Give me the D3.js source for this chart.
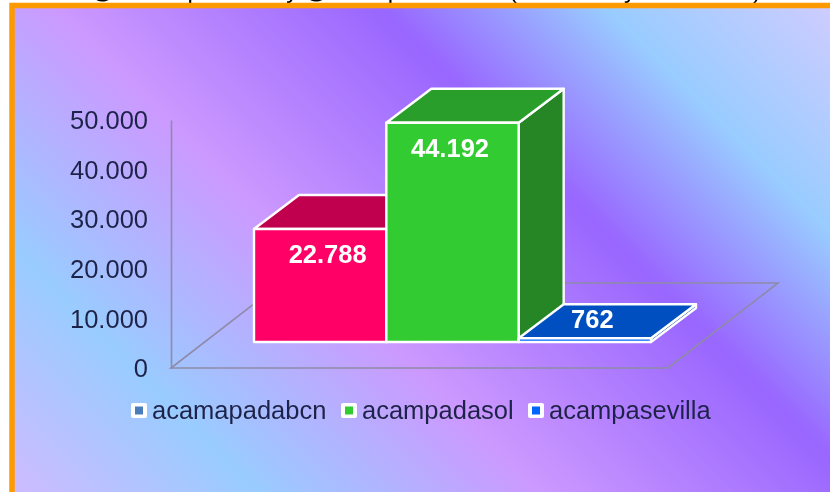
<!DOCTYPE html>
<html><head><meta charset="utf-8">
<script src="https://cdn.jsdelivr.net/npm/d3@7"></script>
<style>html,body{margin:0;padding:0;background:#fff;overflow:hidden}svg{display:block}text{font-family:"Liberation Sans",Arial,sans-serif}</style>
</head><body><div id="c"></div>
<script>
const categories = ["acamapadabcn","acampadasol","acampasevilla"];
const values = [22788,44192,762];
const labels = ["22.788","44.192","762"];
const frontColors = ["#ff0066","#33cc33","#0066ff"];
const topColors = ["#c00050","#299e29","#0050c0"];
const sideColors = ["#a00040","#268626","#0040a0"];
const legendColors = ["#4a7ebb","#33cc33","#0066ff"];
const yTicks = [0,10000,20000,30000,40000,50000];
const bgStops = [[0,"#cbbcff"],[0.18,"#99ccff"],[0.40,"#cc99ff"],[0.655,"#9966ff"],[0.83,"#99ccff"],[1,"#ccccff"]];

const W=830,H=492;
const svg=d3.select("#c").append("svg").attr("width",W).attr("height",H);
const defs=svg.append("defs");
const g=defs.append("linearGradient").attr("id","bg").attr("gradientUnits","userSpaceOnUse")
  .attr("x1",98).attr("y1",563).attr("x2",738).attr("y2",-77);
g.selectAll("stop").data(bgStops).join("stop").attr("offset",d=>d[0]).attr("stop-color",d=>d[1]);
defs.append("filter").attr("id","soft").attr("filterUnits","userSpaceOnUse")
  .attr("x",0).attr("y",0).attr("width",W).attr("height",H)
  .append("feGaussianBlur").attr("stdDeviation",0.6);

const root=svg.append("g").attr("filter","url(#soft)");

// clipped title: only the descenders show above the frame
const title=root.append("text").attr("y",-2).attr("font-size",24).attr("fill","#000");
title.append("tspan").attr("x",91).text("@acamapadabcn y @acampadasol");
title.append("tspan").attr("x",509).text("(");
title.append("tspan").attr("x",624).text("y");
title.append("tspan").attr("x",753).text(")");

root.append("rect").attr("x",12).attr("y",5.5).attr("width",W+20).attr("height",H)
  .attr("fill","url(#bg)").attr("stroke","#ff9900").attr("stroke-width",5.5);

const axisX=171, baseY=368, floorW=497, floorDX=110, floorDY=85;
const y=d3.scaleLinear().domain([0,50000]).range([baseY,120]);
const loc=d3.formatLocale({decimal:",",thousands:".",grouping:[3],currency:["",""]});
const grey="#8f8aa8";

// floor
const fp=d3.path();
fp.moveTo(axisX,baseY);fp.lineTo(axisX+floorW,baseY);fp.lineTo(axisX+floorW+floorDX,baseY-floorDY);
fp.lineTo(axisX+floorDX,baseY-floorDY);fp.closePath();
root.append("path").attr("d",fp.toString()).attr("fill","none").attr("stroke",grey).attr("stroke-width",1.6);

// axis
const ax=root.append("g").attr("transform",`translate(${axisX},0)`)
  .call(d3.axisLeft(y).tickValues(yTicks).tickSize(0).tickPadding(23).tickFormat(loc.format(",")));
ax.select(".domain").attr("stroke",grey).attr("stroke-width",1.6);
ax.selectAll("text").attr("font-size",25.5).attr("fill","#1f2448").attr("font-family",'"Liberation Sans",Arial,sans-serif').attr("dy","0.34em");

// bars
const x=d3.scaleBand().domain(categories).range([254,651]);
const frontBase=342, dX=45, dY=34;
const hgt=v=>y(0)-y(v);
const rows=categories.map((c,i)=>({c,i,v:values[i],x0:x(c),x1:x(c)+x.bandwidth(),top:frontBase-hgt(values[i])}));
const poly=pts=>d3.line()(pts)+"Z";
const bars=root.selectAll("g.bar").data(rows).join("g").attr("class","bar")
  .attr("stroke","#fff").attr("stroke-width",2.4).attr("stroke-linejoin","round");
bars.append("path").attr("d",d=>poly([[d.x1,d.top],[d.x1+dX,d.top-dY],[d.x1+dX,frontBase-dY],[d.x1,frontBase]])).attr("fill",d=>sideColors[d.i]);
bars.append("path").attr("d",d=>poly([[d.x0,d.top],[d.x0+dX,d.top-dY],[d.x1+dX,d.top-dY],[d.x1,d.top]])).attr("fill",d=>topColors[d.i]);
bars.append("path").attr("d",d=>poly([[d.x0,d.top],[d.x1,d.top],[d.x1,frontBase],[d.x0,frontBase]])).attr("fill",d=>frontColors[d.i]);

// data labels
root.selectAll("text.lab").data(rows).join("text").attr("class","lab")
  .attr("x",d=>(d.x0+d.x1)/2+(d.v>40000?-2.5:7.5))
  .attr("y",d=>d.v<5000?d.top-10:d.top+34.5)
  .attr("text-anchor","middle").attr("font-size",25.5).attr("font-weight","bold").attr("fill","#fff")
  .text(d=>labels[d.i]);

// legend
const legX=[131,341,528];
const leg=root.selectAll("g.leg").data(categories).join("g").attr("class","leg").attr("transform",(d,i)=>`translate(${legX[i]},403)`);
leg.append("rect").attr("width",16).attr("height",15).attr("rx",2).attr("fill","#fff");
leg.append("rect").attr("x",4).attr("y",3.5).attr("width",8).attr("height",8).attr("fill",(d,i)=>legendColors[i]);
leg.append("text").attr("x",21).attr("y",16).attr("font-size",25.5).attr("fill","#1f2448").text(d=>d);
</script></body></html>
